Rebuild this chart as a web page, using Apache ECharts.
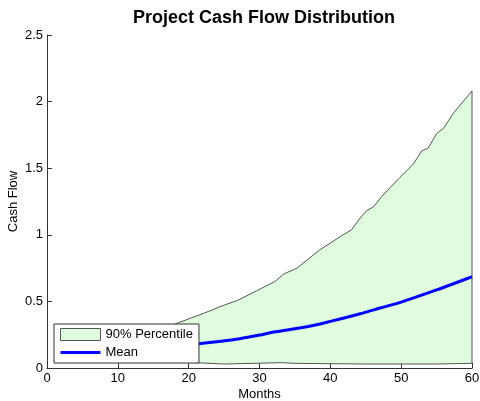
<!DOCTYPE html>
<html>
<head>
<meta charset="utf-8">
<script src="https://cdn.jsdelivr.net/npm/echarts@6/dist/echarts.min.js"></script>
<style>
  html, body { margin: 0; padding: 0; background: #fff; }
  #chart { width: 480px; height: 401px; }
</style>
</head>
<body>
<div id="chart"></div>
<script>
// upper (95th) percentile edge: [month, value]
const upperPoints = [
  [1, 0.06], [3, 0.09], [6, 0.14], [9, 0.19], [12, 0.23], [15, 0.28],
  [18.1, 0.331], [22.1, 0.41], [24.7, 0.466], [27, 0.51], [29.6, 0.58],
  [32.2, 0.65], [33.4, 0.705], [35.3, 0.75], [36.7, 0.81], [38.5, 0.887],
  [40, 0.938], [41.4, 0.987], [43, 1.038], [44.2, 1.126], [45.1, 1.18],
  [46.1, 1.21], [47.3, 1.29], [49.8, 1.43], [51.7, 1.53], [52.9, 1.63],
  [53.8, 1.65], [55, 1.76], [56, 1.8], [57.4, 1.915], [60, 2.08]
]

// lower (5th) percentile edge
const lowerPoints = [
  [1, 0.05], [10, 0.05], [18, 0.05], [21, 0.04], [25, 0.03], [33, 0.04],
  [35, 0.035], [45, 0.03], [55, 0.03], [60, 0.035]
]

// mean cash flow
const meanPoints = [
  [1, 0.06], [5, 0.09], [10, 0.12], [15, 0.145], [18, 0.165], [21.1, 0.18],
  [27.2, 0.22], [30.3, 0.25], [32, 0.27], [36.7, 0.31], [40, 0.35],
  [43.7, 0.4], [47, 0.45], [50, 0.495], [55, 0.586], [60, 0.685]
]

const xTicks = [0, 10, 20, 30, 40, 50, 60]
const yTicks = [0, 0.5, 1, 1.5, 2, 2.5]

const FILL = '#dffcdf'
const EDGE = '#555555'
const FONT = 'Liberation Sans, Arial, sans-serif'

// closed outline of the band: upper edge, then lower edge backwards
const bandPolygon = upperPoints.concat(lowerPoints.slice().reverse())

const chart = echarts.init(document.getElementById('chart'))

const option = {
  animation: false,
  backgroundColor: '#ffffff',
  textStyle: { fontFamily: FONT },
  title: {
    text: 'Project Cash Flow Distribution',
    left: 259,
    textAlign: 'center',
    top: 4,
    textStyle: { fontSize: 18, fontWeight: 'bold', color: '#000', fontFamily: FONT }
  },
  grid: { left: 47, right: 8, top: 35, bottom: 33, outerBoundsMode: 'none' },
  legend: {
    orient: 'vertical',
    left: 54,
    top: 324,
    padding: [4, 6, 4, 6],
    itemWidth: 40,
    itemHeight: 12,
    itemGap: 5,
    backgroundColor: '#ffffff',
    borderColor: '#333333',
    borderWidth: 1,
    borderRadius: 0,
    z: 10,
    textStyle: { fontSize: 13, color: '#000', fontFamily: FONT },
    data: [
      {
        name: '90% Percentile',
        icon: 'rect',
        itemStyle: { color: FILL, borderColor: EDGE, borderWidth: 1 }
      },
      {
        name: 'Mean',
        icon: 'path://M0,0H40V3H0Z',
        itemStyle: { color: '#0000ff', borderWidth: 0 }
      }
    ]
  },
  xAxis: {
    type: 'value',
    min: xTicks[0],
    max: xTicks[xTicks.length - 1],
    interval: 10,
    name: 'Months',
    nameLocation: 'middle',
    nameGap: 20,
    nameMoveOverlap: false,
    nameTextStyle: { fontSize: 13, color: '#000' },
    axisLine: { lineStyle: { color: '#333', width: 1 } },
    axisTick: { inside: true, length: 5, lineStyle: { color: '#333' } },
    axisLabel: { fontSize: 13, color: '#000', margin: 4 },
    splitLine: { show: false }
  },
  yAxis: {
    type: 'value',
    min: yTicks[0],
    max: yTicks[yTicks.length - 1],
    interval: 0.5,
    name: 'Cash Flow',
    nameLocation: 'middle',
    nameGap: 27,
    nameMoveOverlap: false,
    nameTextStyle: { fontSize: 13, color: '#000' },
    axisLine: { show: true, lineStyle: { color: '#333', width: 1 } },
    axisTick: { show: true, inside: true, length: 5, lineStyle: { color: '#333' } },
    axisLabel: { fontSize: 13, color: '#000', margin: 4 },
    splitLine: { show: false }
  },
  series: [
    {
      name: '90% Percentile',
      type: 'custom',
      coordinateSystem: 'cartesian2d',
      data: bandPolygon,
      encode: { x: 0, y: 1 },
      z: 1,
      renderItem: function (params, api) {
        if (params.dataIndex !== 0) return null
        const pts = bandPolygon.map(function (p) { return api.coord(p) })
        return {
          type: 'polygon',
          shape: { points: pts },
          style: { fill: FILL, stroke: EDGE, lineWidth: 1 }
        }
      }
    },
    {
      name: 'Mean',
      type: 'line',
      data: meanPoints,
      showSymbol: false,
      symbol: 'none',
      smooth: 0.3,
      z: 3,
      lineStyle: { color: '#0000ff', width: 3 },
      itemStyle: { color: '#0000ff' }
    }
  ]
}

chart.setOption(option)
</script>
</body>
</html>
